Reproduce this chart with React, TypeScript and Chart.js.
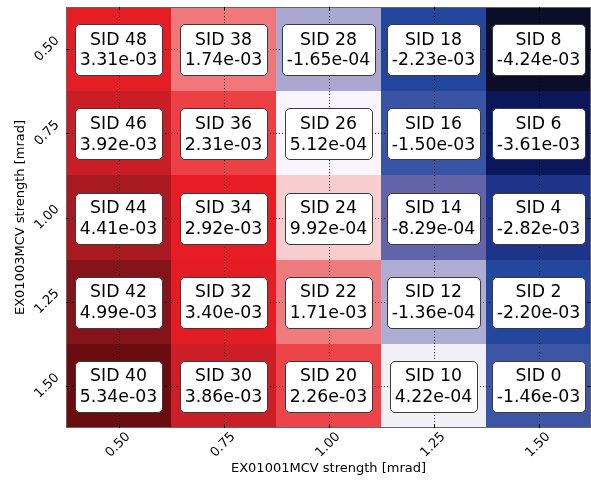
import React, { useEffect, useRef } from "react";
import { Chart, registerables } from "chart.js";

Chart.register(...registerables);

// Grid axes (mrad)
const xValues = [0.5, 0.75, 1.0, 1.25, 1.5];
const yValues = [0.5, 0.75, 1.0, 1.25, 1.5];
const tickLabels = ["0.50", "0.75", "1.00", "1.25", "1.50"];

// rows follow yValues, columns follow xValues
const sidRow050 = [48, 38, 28, 18, 8];
const sidRow075 = [46, 36, 26, 16, 6];
const sidRow100 = [44, 34, 24, 14, 4];
const sidRow125 = [42, 32, 22, 12, 2];
const sidRow150 = [40, 30, 20, 10, 0];

const valRow050 = [3.31e-3, 1.74e-3, -1.65e-4, -2.23e-3, -4.24e-3];
const valRow075 = [3.92e-3, 2.31e-3, 5.12e-4, -1.5e-3, -3.61e-3];
const valRow100 = [4.41e-3, 2.92e-3, 9.92e-4, -8.29e-4, -2.82e-3];
const valRow125 = [4.99e-3, 3.4e-3, 1.71e-3, -1.36e-4, -2.2e-3];
const valRow150 = [5.34e-3, 3.86e-3, 2.26e-3, 4.22e-4, -1.46e-3];

const sidRows = [sidRow050, sidRow075, sidRow100, sidRow125, sidRow150];
const valRows = [valRow050, valRow075, valRow100, valRow125, valRow150];

const xTitle = "EX01001MCV strength [mrad]";
const yTitle = "EX01003MCV strength [mrad]";

// colour map stops (value -> rgb)
const cmapStops: [number, number, number, number][] = [
  [-4.24e-3, 12, 14, 40],
  [-3.61e-3, 12, 22, 90],
  [-2.82e-3, 30, 52, 138],
  [-2.2e-3, 35, 71, 157],
  [-1.5e-3, 58, 84, 165],
  [-8.3e-4, 98, 100, 170],
  [-1.5e-4, 172, 170, 210],
  [4.2e-4, 240, 240, 246],
  [5.1e-4, 248, 246, 252],
  [9.9e-4, 248, 205, 208],
  [1.72e-3, 240, 122, 126],
  [2.28e-3, 236, 66, 70],
  [2.92e-3, 232, 28, 36],
  [3.4e-3, 228, 29, 37],
  [3.9e-3, 202, 30, 38],
  [4.41e-3, 168, 26, 32],
  [4.99e-3, 132, 20, 26],
  [5.34e-3, 107, 12, 14],
];

function colorFor(v: number): string {
  if (v <= cmapStops[0][0]) {
    const s = cmapStops[0];
    return `rgb(${s[1]},${s[2]},${s[3]})`;
  }
  for (let i = 1; i < cmapStops.length; i++) {
    const a = cmapStops[i - 1];
    const b = cmapStops[i];
    if (v <= b[0]) {
      const t = (v - a[0]) / (b[0] - a[0]);
      const r = Math.round(a[1] + (b[1] - a[1]) * t);
      const g = Math.round(a[2] + (b[2] - a[2]) * t);
      const bl = Math.round(a[3] + (b[3] - a[3]) * t);
      return `rgb(${r},${g},${bl})`;
    }
  }
  const s = cmapStops[cmapStops.length - 1];
  return `rgb(${s[1]},${s[2]},${s[3]})`;
}

function fmt(v: number): string {
  const s = v.toExponential(2);
  const [m, e] = s.split("e");
  const sign = e[0] === "-" ? "-" : "+";
  const digits = e.replace(/^[+-]/, "").padStart(2, "0");
  return `${m}e${sign}${digits}`;
}

const FONT = "'DejaVu Sans', Verdana, sans-serif";

const heatPlugin = {
  id: "heat",
  beforeDatasetsDraw(chart: any) {
    const { ctx, chartArea } = chart;
    const xs = chart.scales.x;
    const ys = chart.scales.y;
    const pts = chart.data.datasets[0].data as any[];
    ctx.save();
    for (const p of pts) {
      const x0 = Math.round(xs.getPixelForValue(p.x - 0.125));
      const x1 = Math.round(xs.getPixelForValue(p.x + 0.125));
      const y0 = Math.round(ys.getPixelForValue(p.y - 0.125));
      const y1 = Math.round(ys.getPixelForValue(p.y + 0.125));
      ctx.fillStyle = colorFor(p.v);
      ctx.fillRect(Math.min(x0, x1), Math.min(y0, y1), Math.abs(x1 - x0), Math.abs(y1 - y0));
    }
    // dotted grid
    ctx.strokeStyle = "rgba(0,0,0,0.75)";
    ctx.lineWidth = 1;
    ctx.setLineDash([1, 2]);
    for (const xv of xValues) {
      const px = Math.round(xs.getPixelForValue(xv)) + 0.5;
      ctx.beginPath();
      ctx.moveTo(px, chartArea.top);
      ctx.lineTo(px, chartArea.bottom);
      ctx.stroke();
    }
    for (const yv of yValues) {
      const py = Math.round(ys.getPixelForValue(yv)) + 0.5;
      ctx.beginPath();
      ctx.moveTo(chartArea.left, py);
      ctx.lineTo(chartArea.right, py);
      ctx.stroke();
    }
    ctx.setLineDash([]);
    // frame
    ctx.strokeStyle = "#666";
    ctx.lineWidth = 1;
    ctx.strokeRect(chartArea.left + 0.5, chartArea.top + 0.5, chartArea.right - chartArea.left - 1, chartArea.bottom - chartArea.top - 1);
    // inward tick marks
    ctx.strokeStyle = "#000";
    const tl = 4;
    for (const xv of xValues) {
      const px = Math.round(xs.getPixelForValue(xv)) + 0.5;
      ctx.beginPath();
      ctx.moveTo(px, chartArea.bottom);
      ctx.lineTo(px, chartArea.bottom - tl);
      ctx.moveTo(px, chartArea.top);
      ctx.lineTo(px, chartArea.top + tl);
      ctx.stroke();
    }
    for (const yv of yValues) {
      const py = Math.round(ys.getPixelForValue(yv)) + 0.5;
      ctx.beginPath();
      ctx.moveTo(chartArea.left, py);
      ctx.lineTo(chartArea.left + tl, py);
      ctx.moveTo(chartArea.right, py);
      ctx.lineTo(chartArea.right - tl, py);
      ctx.stroke();
    }
    ctx.restore();
  },
  afterDatasetsDraw(chart: any) {
    const { ctx, chartArea } = chart;
    const xs = chart.scales.x;
    const ys = chart.scales.y;
    const pts = chart.data.datasets[0].data as any[];
    ctx.save();
    const fs = 17.3;
    ctx.font = `${fs}px ${FONT}`;
    for (const p of pts) {
      const cx = xs.getPixelForValue(p.x);
      const cy = ys.getPixelForValue(p.y);
      const l1 = `SID ${p.sid}`;
      const l2 = fmt(p.v);
      const w = Math.max(ctx.measureText(l1).width, ctx.measureText(l2).width) + 9.6;
      const h = 51;
      const bx = Math.round(cx - w / 2) + 0.5;
      const by = Math.round(cy - 25) + 0.5;
      ctx.beginPath();
      ctx.roundRect(bx, by, Math.round(w), h, 4.5);
      ctx.fillStyle = "#fff";
      ctx.fill();
      ctx.strokeStyle = "#3a3a3a";
      ctx.lineWidth = 1;
      ctx.stroke();
      ctx.fillStyle = "#000";
      ctx.textAlign = "center";
      ctx.textBaseline = "alphabetic";
      ctx.fillText(l1, cx, cy - 4.5);
      ctx.fillText(l2, cx, cy + 16.2);
    }
    // tick labels
    ctx.font = `13px ${FONT}`;
    ctx.fillStyle = "#000";
    ctx.textAlign = "center";
    ctx.textBaseline = "middle";
    xValues.forEach((xv, i) => {
      const px = xs.getPixelForValue(xv) - 0.5;
      ctx.save();
      ctx.translate(px, chartArea.bottom + 17);
      ctx.rotate(-Math.PI / 4);
      ctx.fillText(tickLabels[i], 0, 0);
      ctx.restore();
    });
    yValues.forEach((yv, i) => {
      const py = ys.getPixelForValue(yv);
      ctx.save();
      ctx.translate(chartArea.left - 19, py);
      ctx.rotate(-Math.PI / 4);
      ctx.fillText(tickLabels[i], 0, 0);
      ctx.restore();
    });
    // axis titles
    ctx.fillText(xTitle, (chartArea.left + chartArea.right) / 2, chartArea.bottom + 41);
    ctx.save();
    ctx.translate(20.5, (chartArea.top + chartArea.bottom) / 2);
    ctx.rotate(-Math.PI / 2);
    ctx.fillText(yTitle, 0, 0);
    ctx.restore();
    ctx.restore();
  },
};

export default function App() {
  const canvasRef = useRef<HTMLCanvasElement | null>(null);

  useEffect(() => {
    document.body.style.margin = "0";
    const canvas = canvasRef.current;
    if (!canvas) return;
    const points: any[] = [];
    yValues.forEach((yv, r) => {
      xValues.forEach((xv, c) => {
        points.push({ x: xv, y: yv, v: valRows[r][c], sid: sidRows[r][c] });
      });
    });
    const fixTicks = (scale: any) => {
      scale.ticks = xValues.map((v) => ({ value: v }));
    };
    const chart = new Chart(canvas, {
      type: "scatter",
      data: {
        datasets: [
          {
            data: points,
            pointRadius: 0,
            pointHoverRadius: 0,
          },
        ],
      },
      options: {
        animation: false,
        responsive: false,
        events: [],
        layout: { padding: { left: 66, top: 7, right: 0, bottom: 52 } },
        plugins: {
          legend: { display: false },
          tooltip: { enabled: false },
        },
        scales: {
          x: {
            type: "linear",
            min: 0.375,
            max: 1.625,
            afterBuildTicks: fixTicks,
            ticks: { display: false },
            grid: { display: false, drawTicks: false },
            border: { display: false },
          },
          y: {
            type: "linear",
            min: 0.375,
            max: 1.625,
            reverse: true,
            afterBuildTicks: fixTicks,
            ticks: { display: false },
            grid: { display: false, drawTicks: false },
            border: { display: false },
          },
        },
      } as any,
      plugins: [heatPlugin],
    });
    return () => chart.destroy();
  }, []);

  return (
    <div style={{ width: 591, height: 480 }}>
      <canvas ref={canvasRef} width={591} height={480} />
    </div>
  );
}
